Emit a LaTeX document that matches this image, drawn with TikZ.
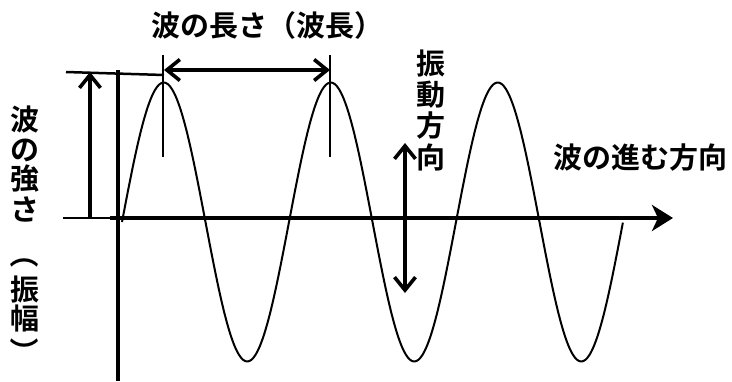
\documentclass[tikz,border=0pt]{standalone}
\usepackage{fontspec}
\newfontfamily\jp{Noto Sans CJK JP}[BoldFont={* Bold}]
\usetikzlibrary{arrows.meta}
\begin{document}
\begin{tikzpicture}[x=1pt,y=-1pt,
  lbl/.style={font=\jp\bfseries\fontsize{29}{29}\selectfont, inner sep=0pt, anchor=center},
  vch/.style={font=\jp\bfseries\fontsize{29}{29}\selectfont, inner sep=0pt, anchor=center},
  barbtip/.tip={Straight Barb[length=13pt,width=21pt,line width=3.6pt]},
  thickln/.style={line width=3.6pt},
  waveln/.style={line width=2pt},
  thinln/.style={line width=1.6pt}]
\useasboundingbox (0,0) rectangle (732,381);
% coordinates
\coordinate (axL) at (63,218);
\coordinate (axM) at (118,218);
\coordinate (axS) at (110,218);
\coordinate (axE) at (673,218);
\coordinate (vT) at (118,70);
\coordinate (vB) at (118,381);
\coordinate (rL) at (66,72);
\coordinate (rR) at (164,75);
\coordinate (aB) at (90,218);
\coordinate (aT) at (90,72);
\coordinate (m1T) at (163,55);
\coordinate (m1B) at (163,157);
\coordinate (m2T) at (330,55);
\coordinate (m2B) at (330,157);
\coordinate (wL) at (164,70);
\coordinate (wR) at (330,70);
\coordinate (dT) at (405,143);
\coordinate (dB) at (405,293);
% axes
\draw[line width=2.5pt] (axL) -- (axM);
\draw[line width=4.5pt,-{Stealth[length=21pt,width=26pt,inset=6pt]}] (axS) -- (axE);
\draw[thickln] (vT) -- (vB);
\draw[line width=2.5pt] (rL) -- (rR);
% amplitude arrow
\draw[thickln,-barbtip] (aB) -- (aT);
% wavelength markers
\draw[thinln] (m1T) -- (m1B);
\draw[thinln] (m2T) -- (m2B);
\draw[thickln,barbtip-barbtip] (wL) -- (wR);
% vibration arrow
\draw[thickln,barbtip-barbtip] (dT) -- (dB);
% wave
\draw[waveln,line join=round] plot[domain=0:3,samples=241,smooth] ({122+167*\x},{222-139.5*sin(360*\x)});
% texts
\node[lbl] (wl) at (267,25) {波の長さ（波長）};
\node[lbl] (dir) at (640,158) {波の進む方向};
% vertical left text
\node[vch] (l1) at (25,119) {波};
\node[vch] (l2) at (25,150) {の};
\node[vch] (l3) at (25,179) {強};
\node[vch] (l4) at (25,209) {さ};
\node[vch,rotate=-90] (l5) at (25,254) {（};
\node[vch] (l6) at (25,289) {振};
\node[vch] (l7) at (25,318) {幅};
\node[vch,rotate=-90] (l8) at (25,352) {）};
% vertical 振動方向
\node[vch] (v1) at (431,63) {振};
\node[vch] (v2) at (431,95) {動};
\node[vch] (v3) at (431,126) {方};
\node[vch] (v4) at (431,157) {向};
\end{tikzpicture}
\end{document}
